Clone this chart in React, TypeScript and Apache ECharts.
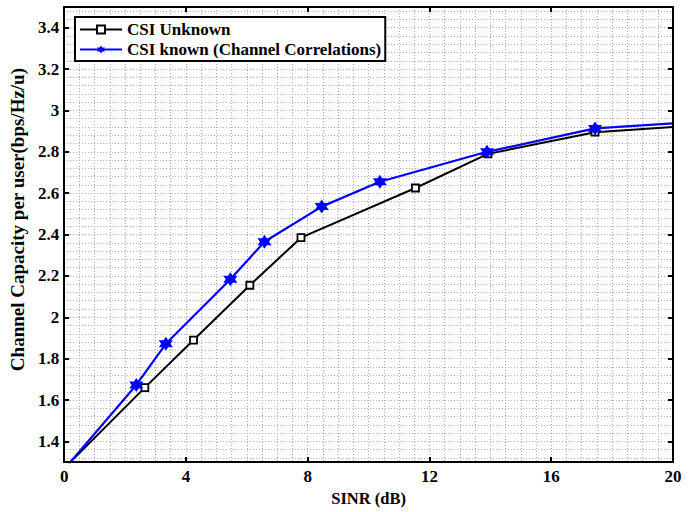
import React, { useEffect, useRef } from "react";
import * as echarts from "echarts";

// Tick labels
const xTickValues = [0, 4, 8, 12, 16, 20];
const yTickValues = [1.4, 1.6, 1.8, 2.0, 2.2, 2.4, 2.6, 2.8, 3.0, 3.2, 3.4];

// Series: CSI Unknown (black squares)
const unknownX = [0, 2.65, 4.25, 6.1, 7.78, 11.54, 13.92, 17.44, 20];
const unknownY = [1.27, 1.66, 1.89, 2.155, 2.385, 2.625, 2.79, 2.895, 2.92];

// Series: CSI known (blue stars)
const knownX = [0, 2.37, 3.34, 5.46, 6.58, 8.46, 10.37, 13.89, 17.44, 20];
const knownY = [1.265, 1.673, 1.872, 2.184, 2.365, 2.535, 2.655, 2.8, 2.913, 2.937];

const seriesNames = ["CSI Unknown", "CSI known (Channel Correlations)"];

const FONT = "Liberation Serif";
const STAR = "path://M0,-10L8.66,5L-8.66,5Z M0,10L-8.66,-5L8.66,-5Z";

function buildData(xs: number[], ys: number[]) {
  return xs.map((x, i) => {
    const edge = i === 0 || i === xs.length - 1;
    return edge ? { value: [x, ys[i]], symbol: "none" } : { value: [x, ys[i]] };
  });
}

export default function App() {
  const ref = useRef<HTMLDivElement>(null);
  useEffect(() => {
    if (!ref.current) return;
    const chart = echarts.init(ref.current, null, { renderer: "svg" });
    const xMin = 0, xMax = 20, yMin = 1.3, yMax = 3.5;
    const yGrid: number[] = [];
    for (let v = 1.32; v < yMax - 0.001; v += 0.04) yGrid.push(Number(v.toFixed(2)));

    const frameLine = { show: true, onZero: false, lineStyle: { color: "#000", width: 2 } };
    const tick = { show: true, inside: true, length: 5, lineStyle: { color: "#000", width: 2 } };
    const labelStyle = { color: "#000", fontFamily: FONT, fontWeight: "bold" as const, fontSize: 17 };
    const gridStyle = { color: "#a8a8a8", type: [1, 2], width: 1 };

    chart.setOption({
      animation: false,
      backgroundColor: "#fff",
      grid: { left: 62, right: 20, top: 7, bottom: 48, containLabel: false },
      legend: {
        data: seriesNames,
        orient: "vertical",
        left: 75,
        top: 17,
        itemWidth: 42,
        itemHeight: 10,
        itemGap: 3,
        padding: [4, 4, 3, 4],
        backgroundColor: "#fff",
        borderColor: "#000",
        borderWidth: 2,
        textStyle: { color: "#000", fontFamily: FONT, fontWeight: "bold", fontSize: 17 },
      },
      xAxis: [
        {
          type: "value", min: xMin, max: xMax, interval: 4, position: "bottom",
          axisLine: frameLine,
          axisTick: tick,
          axisLabel: { ...labelStyle, margin: 6 },
          splitLine: { show: false },
          name: "SINR (dB)", nameLocation: "middle", nameGap: 22,
          nameTextStyle: { ...labelStyle, fontSize: 16.5 },
          z: 5,
        },
        {
          type: "value", min: xMin, max: xMax, interval: 4, position: "top",
          axisLine: frameLine, axisTick: tick, axisLabel: { show: false }, splitLine: { show: false },
          z: 5,
        },
        {
          type: "value", min: xMin, max: xMax, interval: 0.5, position: "top",
          axisLine: { show: false }, axisTick: { show: false },
          axisLabel: { show: false }, splitLine: { show: true, lineStyle: gridStyle },
          z: 1,
        },
      ],
      yAxis: [
        {
          type: "value", min: yMin, max: yMax, interval: 0.1, position: "left",
          axisLine: frameLine,
          axisTick: { ...tick, customValues: yTickValues },
          axisLabel: {
            ...labelStyle, margin: 5, customValues: yTickValues,
            formatter: (v: number) => {
              const t = Math.round(v * 10);
              return t % 2 === 0 ? String(Number(v.toFixed(1))) : "";
            },
          },
          splitLine: { show: false },
          name: "Channel Capacity per user(bps/Hz/u)", nameLocation: "middle", nameGap: 30,
          nameTextStyle: { ...labelStyle, fontSize: 19, padding: [0, 0, 0, 30] },
          z: 5,
        },
        {
          type: "value", min: yMin, max: yMax, interval: 0.1, position: "right",
          axisLine: frameLine, axisTick: { ...tick, customValues: yTickValues },
          axisLabel: { show: false }, splitLine: { show: false },
          z: 5,
        },
        {
          type: "value", min: yMin, max: yMax, interval: 0.1, position: "right",
          axisLine: { show: false }, axisTick: { show: false, customValues: yGrid },
          axisLabel: { show: false }, splitLine: { show: true, lineStyle: gridStyle },
          z: 1,
        },
      ],
      series: [
        {
          name: seriesNames[0], type: "line", xAxisIndex: 0, yAxisIndex: 0,
          data: buildData(unknownX, unknownY),
          symbol: "rect", symbolSize: 7,
          itemStyle: { color: "#fff", borderColor: "#000", borderWidth: 1.8 },
          lineStyle: { color: "#000", width: 2 },
          clip: true, z: 3,
        },
        {
          name: seriesNames[1], type: "line", xAxisIndex: 0, yAxisIndex: 0,
          data: buildData(knownX, knownY),
          symbol: STAR, symbolSize: 14,
          itemStyle: { color: "#0000ff", borderColor: "#0000ff", borderWidth: 0 },
          lineStyle: { color: "#0000ff", width: 2.2 },
          clip: true, z: 4,
        },
      ],
    });
    return () => chart.dispose();
  }, []);
  return (
    <div
      ref={ref}
      style={{ position: "fixed", left: 0, top: 0, width: 693, height: 512 }}
    />
  );
}
